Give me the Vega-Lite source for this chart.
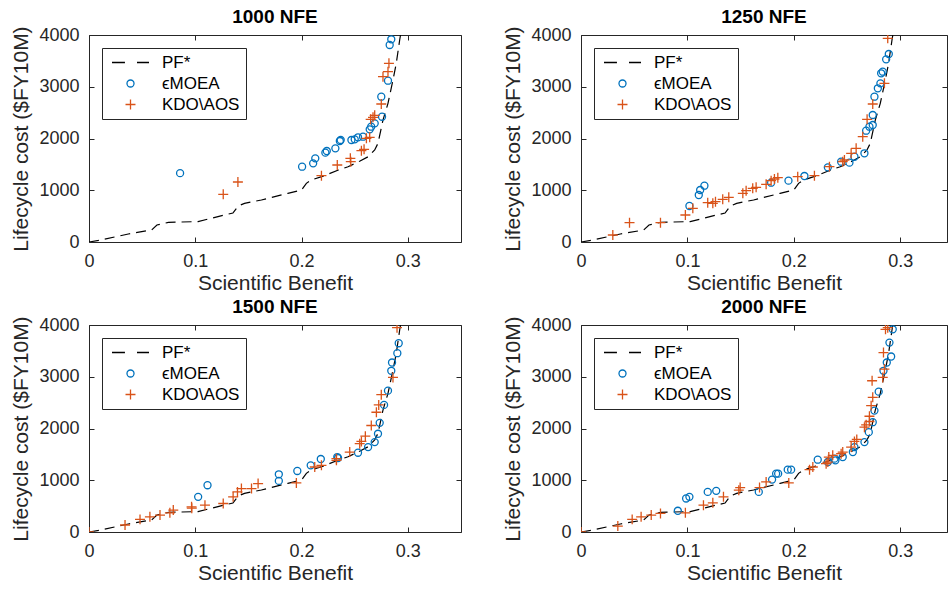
{
  "$schema": "https://vega.github.io/schema/vega-lite/v6.json",
  "padding": {"left": 10, "top": 7, "right": 0, "bottom": 0},
  "background": "white",
  "datasets": {
    "pf": [
      {"x": 0, "y": 0}, {"x": 0.0112, "y": 39}, {"x": 0.037, "y": 155}, {"x": 0.0589, "y": 232}, {"x": 0.0639, "y": 328},
      {"x": 0.0748, "y": 380}, {"x": 0.1026, "y": 395}, {"x": 0.1275, "y": 522}, {"x": 0.1354, "y": 560}, {"x": 0.1404, "y": 696},
      {"x": 0.1463, "y": 747}, {"x": 0.1622, "y": 812}, {"x": 0.1871, "y": 940}, {"x": 0.2, "y": 1005}, {"x": 0.2045, "y": 1134},
      {"x": 0.209, "y": 1198}, {"x": 0.2189, "y": 1262}, {"x": 0.2347, "y": 1391}, {"x": 0.2437, "y": 1455}, {"x": 0.2546, "y": 1560},
      {"x": 0.2626, "y": 1648}, {"x": 0.2688, "y": 1778}, {"x": 0.2719, "y": 1907}, {"x": 0.2766, "y": 2357}, {"x": 0.2813, "y": 2680},
      {"x": 0.286, "y": 3130}, {"x": 0.2891, "y": 3453}, {"x": 0.2923, "y": 3903}, {"x": 0.2935, "y": 4050}
    ],
    "pts": [
      {"p": "1000", "s": "ϵMOEA", "x": 0.0857, "y": 1330}, {"p": "1000", "s": "ϵMOEA", "x": 0.2005, "y": 1455},
      {"p": "1000", "s": "ϵMOEA", "x": 0.2109, "y": 1520}, {"p": "1000", "s": "ϵMOEA", "x": 0.2129, "y": 1617},
      {"p": "1000", "s": "ϵMOEA", "x": 0.2224, "y": 1726}, {"p": "1000", "s": "ϵMOEA", "x": 0.2237, "y": 1758},
      {"p": "1000", "s": "ϵMOEA", "x": 0.2318, "y": 1810}, {"p": "1000", "s": "ϵMOEA", "x": 0.236, "y": 1951},
      {"p": "1000", "s": "ϵMOEA", "x": 0.2368, "y": 1971}, {"p": "1000", "s": "ϵMOEA", "x": 0.2469, "y": 1971},
      {"p": "1000", "s": "ϵMOEA", "x": 0.25, "y": 1984}, {"p": "1000", "s": "ϵMOEA", "x": 0.2531, "y": 2023},
      {"p": "1000", "s": "ϵMOEA", "x": 0.2578, "y": 2035}, {"p": "1000", "s": "ϵMOEA", "x": 0.2641, "y": 2177},
      {"p": "1000", "s": "ϵMOEA", "x": 0.2655, "y": 2228}, {"p": "1000", "s": "ϵMOEA", "x": 0.2688, "y": 2293},
      {"p": "1000", "s": "ϵMOEA", "x": 0.2757, "y": 2421}, {"p": "1000", "s": "ϵMOEA", "x": 0.275, "y": 2808},
      {"p": "1000", "s": "ϵMOEA", "x": 0.2813, "y": 3117}, {"p": "1000", "s": "ϵMOEA", "x": 0.2829, "y": 3807},
      {"p": "1000", "s": "ϵMOEA", "x": 0.2844, "y": 3917},
      {"p": "1000", "s": "KDO\\AOS", "x": 0.1263, "y": 921}, {"p": "1000", "s": "KDO\\AOS", "x": 0.1401, "y": 1159},
      {"p": "1000", "s": "KDO\\AOS", "x": 0.2187, "y": 1282}, {"p": "1000", "s": "KDO\\AOS", "x": 0.2336, "y": 1488},
      {"p": "1000", "s": "KDO\\AOS", "x": 0.2459, "y": 1617}, {"p": "1000", "s": "KDO\\AOS", "x": 0.2463, "y": 1552},
      {"p": "1000", "s": "KDO\\AOS", "x": 0.2563, "y": 1764}, {"p": "1000", "s": "KDO\\AOS", "x": 0.2588, "y": 1791},
      {"p": "1000", "s": "KDO\\AOS", "x": 0.261, "y": 2003}, {"p": "1000", "s": "KDO\\AOS", "x": 0.2641, "y": 2023},
      {"p": "1000", "s": "KDO\\AOS", "x": 0.265, "y": 2371}, {"p": "1000", "s": "KDO\\AOS", "x": 0.2672, "y": 2410},
      {"p": "1000", "s": "KDO\\AOS", "x": 0.2688, "y": 2448}, {"p": "1000", "s": "KDO\\AOS", "x": 0.275, "y": 2667},
      {"p": "1000", "s": "KDO\\AOS", "x": 0.2766, "y": 3194}, {"p": "1000", "s": "KDO\\AOS", "x": 0.2813, "y": 3291},
      {"p": "1000", "s": "KDO\\AOS", "x": 0.2822, "y": 3453},

      {"p": "1250", "s": "ϵMOEA", "x": 0.1019, "y": 696}, {"p": "1250", "s": "ϵMOEA", "x": 0.1107, "y": 908},
      {"p": "1250", "s": "ϵMOEA", "x": 0.112, "y": 1005}, {"p": "1250", "s": "ϵMOEA", "x": 0.116, "y": 1088},
      {"p": "1250", "s": "ϵMOEA", "x": 0.1787, "y": 1146}, {"p": "1250", "s": "ϵMOEA", "x": 0.195, "y": 1185},
      {"p": "1250", "s": "ϵMOEA", "x": 0.21, "y": 1275}, {"p": "1250", "s": "ϵMOEA", "x": 0.232, "y": 1443},
      {"p": "1250", "s": "ϵMOEA", "x": 0.2445, "y": 1552}, {"p": "1250", "s": "ϵMOEA", "x": 0.2523, "y": 1533},
      {"p": "1250", "s": "ϵMOEA", "x": 0.257, "y": 1648}, {"p": "1250", "s": "ϵMOEA", "x": 0.2664, "y": 1714},
      {"p": "1250", "s": "ϵMOEA", "x": 0.268, "y": 2151}, {"p": "1250", "s": "ϵMOEA", "x": 0.2711, "y": 2228},
      {"p": "1250", "s": "ϵMOEA", "x": 0.2742, "y": 2261}, {"p": "1250", "s": "ϵMOEA", "x": 0.2742, "y": 2454},
      {"p": "1250", "s": "ϵMOEA", "x": 0.2758, "y": 2808}, {"p": "1250", "s": "ϵMOEA", "x": 0.279, "y": 2970},
      {"p": "1250", "s": "ϵMOEA", "x": 0.2814, "y": 3066}, {"p": "1250", "s": "ϵMOEA", "x": 0.2821, "y": 3260},
      {"p": "1250", "s": "ϵMOEA", "x": 0.2836, "y": 3291}, {"p": "1250", "s": "ϵMOEA", "x": 0.2868, "y": 3530},
      {"p": "1250", "s": "ϵMOEA", "x": 0.2893, "y": 3633},
      {"p": "1250", "s": "KDO\\AOS", "x": 0.0299, "y": 135}, {"p": "1250", "s": "KDO\\AOS", "x": 0.0456, "y": 374},
      {"p": "1250", "s": "KDO\\AOS", "x": 0.0747, "y": 374}, {"p": "1250", "s": "KDO\\AOS", "x": 0.0981, "y": 522},
      {"p": "1250", "s": "KDO\\AOS", "x": 0.1051, "y": 651}, {"p": "1250", "s": "KDO\\AOS", "x": 0.1191, "y": 760},
      {"p": "1250", "s": "KDO\\AOS", "x": 0.1239, "y": 748}, {"p": "1250", "s": "KDO\\AOS", "x": 0.1264, "y": 779},
      {"p": "1250", "s": "KDO\\AOS", "x": 0.1332, "y": 825}, {"p": "1250", "s": "KDO\\AOS", "x": 0.1389, "y": 863},
      {"p": "1250", "s": "KDO\\AOS", "x": 0.1521, "y": 941}, {"p": "1250", "s": "KDO\\AOS", "x": 0.1552, "y": 992},
      {"p": "1250", "s": "KDO\\AOS", "x": 0.1614, "y": 1037}, {"p": "1250", "s": "KDO\\AOS", "x": 0.1646, "y": 1057},
      {"p": "1250", "s": "KDO\\AOS", "x": 0.174, "y": 1115}, {"p": "1250", "s": "KDO\\AOS", "x": 0.1787, "y": 1185},
      {"p": "1250", "s": "KDO\\AOS", "x": 0.1818, "y": 1217}, {"p": "1250", "s": "KDO\\AOS", "x": 0.185, "y": 1243},
      {"p": "1250", "s": "KDO\\AOS", "x": 0.2037, "y": 1262}, {"p": "1250", "s": "KDO\\AOS", "x": 0.2194, "y": 1282},
      {"p": "1250", "s": "KDO\\AOS", "x": 0.2335, "y": 1455}, {"p": "1250", "s": "KDO\\AOS", "x": 0.246, "y": 1552},
      {"p": "1250", "s": "KDO\\AOS", "x": 0.2476, "y": 1585}, {"p": "1250", "s": "KDO\\AOS", "x": 0.2539, "y": 1714},
      {"p": "1250", "s": "KDO\\AOS", "x": 0.2586, "y": 1810}, {"p": "1250", "s": "KDO\\AOS", "x": 0.2648, "y": 2035},
      {"p": "1250", "s": "KDO\\AOS", "x": 0.2689, "y": 2371}, {"p": "1250", "s": "KDO\\AOS", "x": 0.2742, "y": 2667},
      {"p": "1250", "s": "KDO\\AOS", "x": 0.2852, "y": 3066}, {"p": "1250", "s": "KDO\\AOS", "x": 0.2883, "y": 3936},

      {"p": "1500", "s": "ϵMOEA", "x": 0.1027, "y": 679}, {"p": "1500", "s": "ϵMOEA", "x": 0.1115, "y": 904},
      {"p": "1500", "s": "ϵMOEA", "x": 0.1786, "y": 1115}, {"p": "1500", "s": "ϵMOEA", "x": 0.1786, "y": 987},
      {"p": "1500", "s": "ϵMOEA", "x": 0.196, "y": 1179}, {"p": "1500", "s": "ϵMOEA", "x": 0.2086, "y": 1288},
      {"p": "1500", "s": "ϵMOEA", "x": 0.2181, "y": 1410}, {"p": "1500", "s": "ϵMOEA", "x": 0.2336, "y": 1448},
      {"p": "1500", "s": "ϵMOEA", "x": 0.2343, "y": 1429}, {"p": "1500", "s": "ϵMOEA", "x": 0.2531, "y": 1532},
      {"p": "1500", "s": "ϵMOEA", "x": 0.2626, "y": 1641}, {"p": "1500", "s": "ϵMOEA", "x": 0.2688, "y": 1737},
      {"p": "1500", "s": "ϵMOEA", "x": 0.2719, "y": 1898}, {"p": "1500", "s": "ϵMOEA", "x": 0.2735, "y": 2109},
      {"p": "1500", "s": "ϵMOEA", "x": 0.2776, "y": 2456}, {"p": "1500", "s": "ϵMOEA", "x": 0.2813, "y": 2731},
      {"p": "1500", "s": "ϵMOEA", "x": 0.2844, "y": 3115}, {"p": "1500", "s": "ϵMOEA", "x": 0.2851, "y": 3275},
      {"p": "1500", "s": "ϵMOEA", "x": 0.2901, "y": 3455}, {"p": "1500", "s": "ϵMOEA", "x": 0.2914, "y": 3648},
      {"p": "1500", "s": "KDO\\AOS", "x": 0, "y": 0}, {"p": "1500", "s": "KDO\\AOS", "x": 0.0339, "y": 135},
      {"p": "1500", "s": "KDO\\AOS", "x": 0.048, "y": 244}, {"p": "1500", "s": "KDO\\AOS", "x": 0.0573, "y": 294},
      {"p": "1500", "s": "KDO\\AOS", "x": 0.0668, "y": 327}, {"p": "1500", "s": "KDO\\AOS", "x": 0.0761, "y": 371},
      {"p": "1500", "s": "KDO\\AOS", "x": 0.0793, "y": 423}, {"p": "1500", "s": "KDO\\AOS", "x": 0.0965, "y": 487},
      {"p": "1500", "s": "KDO\\AOS", "x": 0.0967, "y": 460}, {"p": "1500", "s": "KDO\\AOS", "x": 0.1091, "y": 519},
      {"p": "1500", "s": "KDO\\AOS", "x": 0.1263, "y": 551}, {"p": "1500", "s": "KDO\\AOS", "x": 0.1356, "y": 679},
      {"p": "1500", "s": "KDO\\AOS", "x": 0.1397, "y": 775}, {"p": "1500", "s": "KDO\\AOS", "x": 0.1434, "y": 840},
      {"p": "1500", "s": "KDO\\AOS", "x": 0.1529, "y": 840}, {"p": "1500", "s": "KDO\\AOS", "x": 0.1591, "y": 936},
      {"p": "1500", "s": "KDO\\AOS", "x": 0.1951, "y": 948}, {"p": "1500", "s": "KDO\\AOS", "x": 0.2124, "y": 1256},
      {"p": "1500", "s": "KDO\\AOS", "x": 0.2187, "y": 1288}, {"p": "1500", "s": "KDO\\AOS", "x": 0.2328, "y": 1417},
      {"p": "1500", "s": "KDO\\AOS", "x": 0.2328, "y": 1385}, {"p": "1500", "s": "KDO\\AOS", "x": 0.2453, "y": 1545},
      {"p": "1500", "s": "KDO\\AOS", "x": 0.2547, "y": 1706}, {"p": "1500", "s": "KDO\\AOS", "x": 0.2563, "y": 1750},
      {"p": "1500", "s": "KDO\\AOS", "x": 0.26, "y": 1852}, {"p": "1500", "s": "KDO\\AOS", "x": 0.2656, "y": 2058},
      {"p": "1500", "s": "KDO\\AOS", "x": 0.2704, "y": 2314}, {"p": "1500", "s": "KDO\\AOS", "x": 0.2726, "y": 2456},
      {"p": "1500", "s": "KDO\\AOS", "x": 0.275, "y": 2654}, {"p": "1500", "s": "KDO\\AOS", "x": 0.286, "y": 2987},
      {"p": "1500", "s": "KDO\\AOS", "x": 0.2898, "y": 3948},

      {"p": "2000", "s": "ϵMOEA", "x": 0.091, "y": 410}, {"p": "2000", "s": "ϵMOEA", "x": 0.0988, "y": 648},
      {"p": "2000", "s": "ϵMOEA", "x": 0.1019, "y": 679}, {"p": "2000", "s": "ϵMOEA", "x": 0.1191, "y": 775},
      {"p": "2000", "s": "ϵMOEA", "x": 0.1271, "y": 795}, {"p": "2000", "s": "ϵMOEA", "x": 0.1671, "y": 775},
      {"p": "2000", "s": "ϵMOEA", "x": 0.1796, "y": 1013}, {"p": "2000", "s": "ϵMOEA", "x": 0.1834, "y": 1128},
      {"p": "2000", "s": "ϵMOEA", "x": 0.1853, "y": 1128}, {"p": "2000", "s": "ϵMOEA", "x": 0.1943, "y": 1205},
      {"p": "2000", "s": "ϵMOEA", "x": 0.1975, "y": 1205}, {"p": "2000", "s": "ϵMOEA", "x": 0.2225, "y": 1397},
      {"p": "2000", "s": "ϵMOEA", "x": 0.2391, "y": 1385}, {"p": "2000", "s": "ϵMOEA", "x": 0.232, "y": 1352},
      {"p": "2000", "s": "ϵMOEA", "x": 0.2382, "y": 1417}, {"p": "2000", "s": "ϵMOEA", "x": 0.246, "y": 1448},
      {"p": "2000", "s": "ϵMOEA", "x": 0.2555, "y": 1545}, {"p": "2000", "s": "ϵMOEA", "x": 0.257, "y": 1641},
      {"p": "2000", "s": "ϵMOEA", "x": 0.2664, "y": 1737}, {"p": "2000", "s": "ϵMOEA", "x": 0.2705, "y": 1929},
      {"p": "2000", "s": "ϵMOEA", "x": 0.2742, "y": 2122}, {"p": "2000", "s": "ϵMOEA", "x": 0.2758, "y": 2346},
      {"p": "2000", "s": "ϵMOEA", "x": 0.2798, "y": 2712}, {"p": "2000", "s": "ϵMOEA", "x": 0.2843, "y": 3115},
      {"p": "2000", "s": "ϵMOEA", "x": 0.2874, "y": 3275}, {"p": "2000", "s": "ϵMOEA", "x": 0.2915, "y": 3391},
      {"p": "2000", "s": "ϵMOEA", "x": 0.2899, "y": 3660}, {"p": "2000", "s": "ϵMOEA", "x": 0.293, "y": 3917},
      {"p": "2000", "s": "KDO\\AOS", "x": 0, "y": 0}, {"p": "2000", "s": "KDO\\AOS", "x": 0.0346, "y": 115},
      {"p": "2000", "s": "KDO\\AOS", "x": 0.0481, "y": 244}, {"p": "2000", "s": "KDO\\AOS", "x": 0.0565, "y": 294},
      {"p": "2000", "s": "KDO\\AOS", "x": 0.066, "y": 327}, {"p": "2000", "s": "KDO\\AOS", "x": 0.0747, "y": 359},
      {"p": "2000", "s": "KDO\\AOS", "x": 0.0981, "y": 371}, {"p": "2000", "s": "KDO\\AOS", "x": 0.1151, "y": 519},
      {"p": "2000", "s": "KDO\\AOS", "x": 0.1239, "y": 564}, {"p": "2000", "s": "KDO\\AOS", "x": 0.1339, "y": 679},
      {"p": "2000", "s": "KDO\\AOS", "x": 0.1483, "y": 808}, {"p": "2000", "s": "KDO\\AOS", "x": 0.1496, "y": 859},
      {"p": "2000", "s": "KDO\\AOS", "x": 0.1678, "y": 859}, {"p": "2000", "s": "KDO\\AOS", "x": 0.174, "y": 968},
      {"p": "2000", "s": "KDO\\AOS", "x": 0.1953, "y": 948}, {"p": "2000", "s": "KDO\\AOS", "x": 0.2148, "y": 1205},
      {"p": "2000", "s": "KDO\\AOS", "x": 0.2179, "y": 1256}, {"p": "2000", "s": "KDO\\AOS", "x": 0.2304, "y": 1320},
      {"p": "2000", "s": "KDO\\AOS", "x": 0.2329, "y": 1448}, {"p": "2000", "s": "KDO\\AOS", "x": 0.2445, "y": 1513},
      {"p": "2000", "s": "KDO\\AOS", "x": 0.232, "y": 1352}, {"p": "2000", "s": "KDO\\AOS", "x": 0.2366, "y": 1481},
      {"p": "2000", "s": "KDO\\AOS", "x": 0.246, "y": 1545}, {"p": "2000", "s": "KDO\\AOS", "x": 0.2539, "y": 1641},
      {"p": "2000", "s": "KDO\\AOS", "x": 0.257, "y": 1750}, {"p": "2000", "s": "KDO\\AOS", "x": 0.2592, "y": 1788},
      {"p": "2000", "s": "KDO\\AOS", "x": 0.2664, "y": 2026}, {"p": "2000", "s": "KDO\\AOS", "x": 0.268, "y": 2071},
      {"p": "2000", "s": "KDO\\AOS", "x": 0.2711, "y": 2135}, {"p": "2000", "s": "KDO\\AOS", "x": 0.2711, "y": 2237},
      {"p": "2000", "s": "KDO\\AOS", "x": 0.2727, "y": 2442}, {"p": "2000", "s": "KDO\\AOS", "x": 0.2742, "y": 2602},
      {"p": "2000", "s": "KDO\\AOS", "x": 0.2736, "y": 2923}, {"p": "2000", "s": "KDO\\AOS", "x": 0.2836, "y": 2987},
      {"p": "2000", "s": "KDO\\AOS", "x": 0.2852, "y": 3148}, {"p": "2000", "s": "KDO\\AOS", "x": 0.2843, "y": 3468},
      {"p": "2000", "s": "KDO\\AOS", "x": 0.2862, "y": 3917}, {"p": "2000", "s": "KDO\\AOS", "x": 0.2883, "y": 3948}
    ]
  },
  "resolve": {"scale": {"color": "independent", "shape": "independent"}, "legend": {"color": "independent", "shape": "independent"}},
  "spacing": 3,
  "vconcat": [
    {
      "spacing": 40,
      "resolve": {"scale": {"color": "independent", "shape": "independent"}, "legend": {"color": "independent", "shape": "independent"}},
      "hconcat": [
        {
          "title": "1000 NFE", "width": 372, "height": 207,
          "resolve": {"axis": {"x": "independent", "y": "independent"}},
          "layer": [
            {"data": {"name": "pf"}, "mark": {"type": "line", "color": "#000000", "strokeDash": [10, 6], "strokeWidth": 1.2, "clip": true},
             "encoding": {
               "x": {"field": "x", "type": "quantitative", "scale": {"domain": [0, 0.35], "nice": false, "zero": false}, "axis": {"orient": "bottom", "values": [0, 0.1, 0.2, 0.3], "format": "~g", "title": "Scientific Benefit"}},
               "y": {"field": "y", "type": "quantitative", "scale": {"domain": [0, 4000], "nice": false}, "axis": {"orient": "left", "values": [0, 1000, 2000, 3000, 4000], "format": "d", "title": "Lifecycle cost ($FY10M)"}}}},
            {"data": {"name": "pts"}, "transform": [{"filter": "datum.p === '1000'"}],
             "mark": {"type": "point", "filled": false, "size": 1369, "strokeWidth": 1.3, "opacity": 1, "clip": true},
             "encoding": {
               "x": {"field": "x", "type": "quantitative", "scale": {"domain": [0, 0.35], "nice": false, "zero": false}, "axis": {"orient": "top", "values": [0, 0.1, 0.2, 0.3], "labels": false, "title": null}},
               "y": {"field": "y", "type": "quantitative", "scale": {"domain": [0, 4000], "nice": false}, "axis": {"orient": "right", "values": [0, 1000, 2000, 3000, 4000], "labels": false, "title": null}},
               "color": {"field": "s", "type": "nominal", "scale": {"domain": ["PF*", "ϵMOEA", "KDO\\AOS"], "range": ["#000000", "#0072BD", "#D95319"]}, "legend": {"title": null}},
               "shape": {"field": "s", "type": "nominal", "scale": {"domain": ["PF*", "ϵMOEA", "KDO\\AOS"], "range": ["M-1,0H-0.3M0.35,0H1", "M0.19,0A0.19,0.19,0,1,1,-0.19,0A0.19,0.19,0,1,1,0.19,0Z", "M-0.27,0H0.27M0,-0.27V0.27"]}, "legend": {"title": null}}}}
          ]
        },
        {
          "title": "1250 NFE", "width": 366, "height": 207,
          "resolve": {"axis": {"x": "independent", "y": "independent"}},
          "layer": [
            {"data": {"name": "pf"}, "mark": {"type": "line", "color": "#000000", "strokeDash": [10, 6], "strokeWidth": 1.2, "clip": true},
             "encoding": {
               "x": {"field": "x", "type": "quantitative", "scale": {"domain": [0, 0.344], "nice": false, "zero": false}, "axis": {"orient": "bottom", "values": [0, 0.1, 0.2, 0.3], "format": "~g", "title": "Scientific Benefit"}},
               "y": {"field": "y", "type": "quantitative", "scale": {"domain": [0, 4000], "nice": false}, "axis": {"orient": "left", "values": [0, 1000, 2000, 3000, 4000], "format": "d", "title": "Lifecycle cost ($FY10M)"}}}},
            {"data": {"name": "pts"}, "transform": [{"filter": "datum.p === '1250'"}],
             "mark": {"type": "point", "filled": false, "size": 1369, "strokeWidth": 1.3, "opacity": 1, "clip": true},
             "encoding": {
               "x": {"field": "x", "type": "quantitative", "scale": {"domain": [0, 0.344], "nice": false, "zero": false}, "axis": {"orient": "top", "values": [0, 0.1, 0.2, 0.3], "labels": false, "title": null}},
               "y": {"field": "y", "type": "quantitative", "scale": {"domain": [0, 4000], "nice": false}, "axis": {"orient": "right", "values": [0, 1000, 2000, 3000, 4000], "labels": false, "title": null}},
               "color": {"field": "s", "type": "nominal", "scale": {"domain": ["PF*", "ϵMOEA", "KDO\\AOS"], "range": ["#000000", "#0072BD", "#D95319"]}, "legend": {"title": null}},
               "shape": {"field": "s", "type": "nominal", "scale": {"domain": ["PF*", "ϵMOEA", "KDO\\AOS"], "range": ["M-1,0H-0.3M0.35,0H1", "M0.19,0A0.19,0.19,0,1,1,-0.19,0A0.19,0.19,0,1,1,0.19,0Z", "M-0.27,0H0.27M0,-0.27V0.27"]}, "legend": {"title": null}}}}
          ]
        }
      ]
    },
    {
      "spacing": 40,
      "resolve": {"scale": {"color": "independent", "shape": "independent"}, "legend": {"color": "independent", "shape": "independent"}},
      "hconcat": [
        {
          "title": "1500 NFE", "width": 372, "height": 207,
          "resolve": {"axis": {"x": "independent", "y": "independent"}},
          "layer": [
            {"data": {"name": "pf"}, "mark": {"type": "line", "color": "#000000", "strokeDash": [10, 6], "strokeWidth": 1.2, "clip": true},
             "encoding": {
               "x": {"field": "x", "type": "quantitative", "scale": {"domain": [0, 0.35], "nice": false, "zero": false}, "axis": {"orient": "bottom", "values": [0, 0.1, 0.2, 0.3], "format": "~g", "title": "Scientific Benefit"}},
               "y": {"field": "y", "type": "quantitative", "scale": {"domain": [0, 4000], "nice": false}, "axis": {"orient": "left", "values": [0, 1000, 2000, 3000, 4000], "format": "d", "title": "Lifecycle cost ($FY10M)"}}}},
            {"data": {"name": "pts"}, "transform": [{"filter": "datum.p === '1500'"}],
             "mark": {"type": "point", "filled": false, "size": 1369, "strokeWidth": 1.3, "opacity": 1, "clip": true},
             "encoding": {
               "x": {"field": "x", "type": "quantitative", "scale": {"domain": [0, 0.35], "nice": false, "zero": false}, "axis": {"orient": "top", "values": [0, 0.1, 0.2, 0.3], "labels": false, "title": null}},
               "y": {"field": "y", "type": "quantitative", "scale": {"domain": [0, 4000], "nice": false}, "axis": {"orient": "right", "values": [0, 1000, 2000, 3000, 4000], "labels": false, "title": null}},
               "color": {"field": "s", "type": "nominal", "scale": {"domain": ["PF*", "ϵMOEA", "KDO\\AOS"], "range": ["#000000", "#0072BD", "#D95319"]}, "legend": {"title": null}},
               "shape": {"field": "s", "type": "nominal", "scale": {"domain": ["PF*", "ϵMOEA", "KDO\\AOS"], "range": ["M-1,0H-0.3M0.35,0H1", "M0.19,0A0.19,0.19,0,1,1,-0.19,0A0.19,0.19,0,1,1,0.19,0Z", "M-0.27,0H0.27M0,-0.27V0.27"]}, "legend": {"title": null}}}}
          ]
        },
        {
          "title": "2000 NFE", "width": 366, "height": 207,
          "resolve": {"axis": {"x": "independent", "y": "independent"}},
          "layer": [
            {"data": {"name": "pf"}, "mark": {"type": "line", "color": "#000000", "strokeDash": [10, 6], "strokeWidth": 1.2, "clip": true},
             "encoding": {
               "x": {"field": "x", "type": "quantitative", "scale": {"domain": [0, 0.344], "nice": false, "zero": false}, "axis": {"orient": "bottom", "values": [0, 0.1, 0.2, 0.3], "format": "~g", "title": "Scientific Benefit"}},
               "y": {"field": "y", "type": "quantitative", "scale": {"domain": [0, 4000], "nice": false}, "axis": {"orient": "left", "values": [0, 1000, 2000, 3000, 4000], "format": "d", "title": "Lifecycle cost ($FY10M)"}}}},
            {"data": {"name": "pts"}, "transform": [{"filter": "datum.p === '2000'"}],
             "mark": {"type": "point", "filled": false, "size": 1369, "strokeWidth": 1.3, "opacity": 1, "clip": true},
             "encoding": {
               "x": {"field": "x", "type": "quantitative", "scale": {"domain": [0, 0.344], "nice": false, "zero": false}, "axis": {"orient": "top", "values": [0, 0.1, 0.2, 0.3], "labels": false, "title": null}},
               "y": {"field": "y", "type": "quantitative", "scale": {"domain": [0, 4000], "nice": false}, "axis": {"orient": "right", "values": [0, 1000, 2000, 3000, 4000], "labels": false, "title": null}},
               "color": {"field": "s", "type": "nominal", "scale": {"domain": ["PF*", "ϵMOEA", "KDO\\AOS"], "range": ["#000000", "#0072BD", "#D95319"]}, "legend": {"title": null}},
               "shape": {"field": "s", "type": "nominal", "scale": {"domain": ["PF*", "ϵMOEA", "KDO\\AOS"], "range": ["M-1,0H-0.3M0.35,0H1", "M0.19,0A0.19,0.19,0,1,1,-0.19,0A0.19,0.19,0,1,1,0.19,0Z", "M-0.27,0H0.27M0,-0.27V0.27"]}, "legend": {"title": null}}}}
          ]
        }
      ]
    }
  ],
  "config": {
    "font": "Liberation Sans",
    "view": {"stroke": "#262626", "strokeWidth": 1},
    "axis": {"grid": false, "domain": false, "tickColor": "#262626", "tickSize": -5, "labelFontSize": 18, "labelColor": "#262626", "labelFont": "Liberation Sans", "titleFont": "Liberation Sans", "titleFontSize": 21, "titleFontWeight": "normal", "titleColor": "#262626", "labelFlush": false, "labelOverlap": false},
    "axisX": {"labelPadding": 15, "titlePadding": 2},
    "axisY": {"labelPadding": 15, "titlePadding": 7},
    "title": {"fontSize": 19, "fontWeight": "bold", "color": "#000000", "offset": -1, "anchor": "middle", "font": "Liberation Sans"},
    "legend": {"orient": "top-left", "offset": 13, "padding": 6, "rowPadding": 3, "clipHeight": 17, "labelFontSize": 17, "labelFont": "Liberation Sans", "labelColor": "#000000", "symbolSize": 1369, "symbolStrokeWidth": 1.3, "symbolOffset": 3, "labelOffset": 12, "strokeColor": "#262626", "fillColor": "#ffffff"}
  }
}
